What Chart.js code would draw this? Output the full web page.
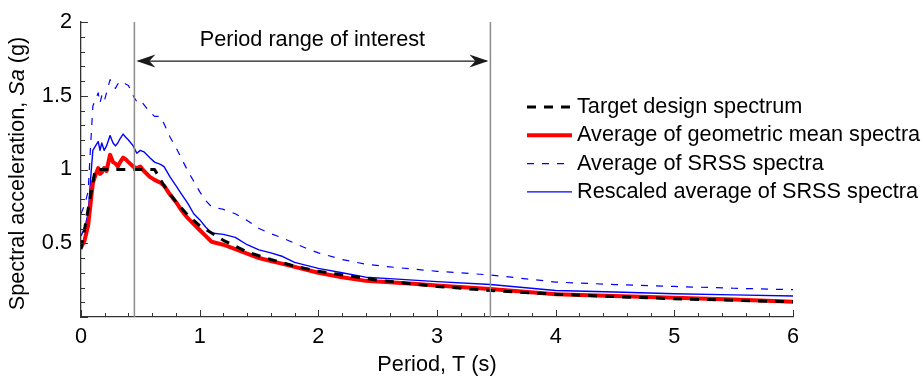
<!DOCTYPE html>
<html lang="en">
<head>
<meta charset="UTF-8" />
<title>Spectral acceleration vs period</title>
<script src="https://cdn.jsdelivr.net/npm/chart.js"></script>
<style>
  html, body { margin: 0; padding: 0; background: #fff; }
  #wrap { width: 924px; height: 377px; position: relative; }
</style>
</head>
<body>
<div id="wrap"><canvas id="chart"></canvas></div>
<script>
// periods (s) shared by the three recorded-motion curves
const periods = [0, 0.03, 0.06, 0.085, 0.10, 0.13, 0.145, 0.16, 0.175, 0.195, 0.215, 0.245, 0.27, 0.29, 0.31, 0.33, 0.355, 0.375, 0.40, 0.44, 0.47, 0.50, 0.53, 0.58, 0.62, 0.67, 0.70, 0.75, 0.80, 0.85, 0.90, 0.95, 1.0, 1.05, 1.10, 1.20, 1.30, 1.40, 1.50, 1.60, 1.70, 1.80, 1.90, 2.0, 2.2, 2.4, 2.6, 2.8, 3.0, 3.45, 4.0, 4.5, 5.0, 5.5, 6.0];
const geoMeanSa = [0.47, 0.52, 0.62, 0.80, 0.91, 0.98, 1.01, 0.97, 0.98, 1.01, 0.99, 1.10, 1.05, 1.04, 1.02, 1.05, 1.08, 1.07, 1.05, 1.02, 1.01, 1.02, 0.99, 0.95, 0.93, 0.91, 0.89, 0.83, 0.78, 0.72, 0.67, 0.63, 0.59, 0.55, 0.51, 0.49, 0.46, 0.43, 0.40, 0.38, 0.36, 0.34, 0.32, 0.30, 0.27, 0.245, 0.235, 0.225, 0.213, 0.19, 0.155, 0.142, 0.131, 0.118, 0.103];
const srssSa = [0.70, 0.76, 0.85, 1.22, 1.43, 1.49, 1.52, 1.45, 1.50, 1.46, 1.52, 1.61, 1.57, 1.55, 1.58, 1.59, 1.60, 1.58, 1.57, 1.50, 1.46, 1.47, 1.44, 1.39, 1.36, 1.36, 1.31, 1.22, 1.15, 1.07, 0.99, 0.92, 0.85, 0.79, 0.747, 0.73, 0.70, 0.655, 0.60, 0.565, 0.535, 0.50, 0.465, 0.435, 0.39, 0.358, 0.34, 0.325, 0.31, 0.285, 0.237, 0.22, 0.207, 0.195, 0.185];
const rescaledSa = [0.55, 0.60, 0.70, 0.98, 1.13, 1.17, 1.19, 1.13, 1.18, 1.13, 1.16, 1.23, 1.18, 1.16, 1.18, 1.21, 1.24, 1.22, 1.20, 1.16, 1.11, 1.13, 1.12, 1.08, 1.05, 1.035, 1.02, 0.95, 0.89, 0.83, 0.77, 0.70, 0.66, 0.61, 0.57, 0.56, 0.54, 0.49, 0.455, 0.435, 0.41, 0.37, 0.35, 0.33, 0.30, 0.27, 0.26, 0.25, 0.24, 0.22, 0.18, 0.17, 0.158, 0.15, 0.142];

// target design spectrum
const targetT = [0, 0.12, 0.62, 0.7, 0.8, 0.9, 1.0, 1.2, 1.4, 1.6, 1.8, 2.0, 2.5, 3.0, 3.5, 4.0, 4.5, 5.0, 5.5, 6.0];
const targetSa = [0.46, 1.0, 1.0, 0.89, 0.78, 0.69, 0.62, 0.52, 0.44, 0.39, 0.345, 0.31, 0.25, 0.207, 0.177, 0.155, 0.138, 0.124, 0.113, 0.103];

const rangeStart = 0.45;
const rangeEnd = 3.45;
const xTickLabels = [0, 1, 2, 3, 4, 5, 6];
const yTickLabels = [0.5, 1, 1.5, 2];
const xMinorStep = 0.2;
const yMinorStep = 0.1;

const FONT = "'Liberation Sans', Arial, sans-serif";
const FSIZE = 21.7;
Chart.defaults.font.family = FONT;
Chart.defaults.font.size = FSIZE;
Chart.defaults.color = '#000';

const pts = (xs, ys) => xs.map((x, i) => ({ x, y: ys[i] }));

function line(ctx, x1, y1, x2, y2) {
  ctx.beginPath();
  ctx.moveTo(x1, y1);
  ctx.lineTo(x2, y2);
  ctx.stroke();
}

function arrowHead(ctx, tipX, y, dir) {
  // concave filled head, dir = +1 points right, -1 points left
  ctx.beginPath();
  ctx.moveTo(tipX, y);
  ctx.lineTo(tipX - dir * 19, y - 6.5);
  ctx.lineTo(tipX - dir * 13, y);
  ctx.lineTo(tipX - dir * 19, y + 6.5);
  ctx.closePath();
  ctx.fill();
}

const decor = {
  id: 'decor',
  afterDatasetsDraw(chart) {
    const { ctx, chartArea: a, scales: { x, y } } = chart;
    const x1 = x.getPixelForValue(rangeStart);
    const x2 = x.getPixelForValue(rangeEnd);
    ctx.save();
    ctx.strokeStyle = '#8c8c8c';
    ctx.lineWidth = 1.5;
    line(ctx, x1, a.top, x1, a.bottom);
    line(ctx, x2, a.top, x2, a.bottom);

    // double arrow and label
    const ay = y.getPixelForValue(1.735);
    ctx.strokeStyle = '#1a1a1a';
    ctx.fillStyle = '#1a1a1a';
    ctx.lineWidth = 1.3;
    line(ctx, x1 + 4, ay, x2 - 4, ay);
    arrowHead(ctx, x1 + 2, ay, -1);
    arrowHead(ctx, x2 - 2, ay, 1);
    ctx.fillStyle = '#000';
    ctx.font = FSIZE + 'px ' + FONT;
    ctx.textAlign = 'center';
    ctx.textBaseline = 'middle';
    ctx.fillText('Period range of interest', (x1 + x2) / 2, y.getPixelForValue(1.88));
    ctx.restore();
  },
  afterDraw(chart) {
    const { ctx, chartArea: a, scales: { x, y } } = chart;
    ctx.save();
    // inward ticks
    ctx.strokeStyle = '#333';
    ctx.lineWidth = 1;
    for (let i = 0; i <= Math.round(6 / xMinorStep); i++) {
      const px = Math.round(x.getPixelForValue(i * xMinorStep)) + 0.5;
      const len = i % 5 === 0 ? 7 : 4;
      line(ctx, px, a.bottom, px, a.bottom - len);
    }
    for (let i = 0; i <= Math.round(2 / yMinorStep); i++) {
      const py = Math.round(y.getPixelForValue(i * yMinorStep)) + 0.5;
      const len = i % 5 === 0 ? 7 : 4;
      line(ctx, a.left, py, a.left + len, py);
    }

    // axis titles
    ctx.fillStyle = '#000';
    ctx.font = FSIZE + 'px ' + FONT;
    ctx.textBaseline = 'middle';
    ctx.textAlign = 'center';
    ctx.fillText('Period, T (s)', (a.left + a.right) / 2, a.bottom + 48);

    const parts = [
      ['Spectral acceleration, ', 'normal'],
      ['Sa', 'italic'],
      [' (g)', 'normal']
    ];
    let total = 0;
    const widths = parts.map(([t, s]) => {
      ctx.font = s + ' ' + FSIZE + 'px ' + FONT;
      const w = ctx.measureText(t).width;
      total += w;
      return w;
    });
    ctx.translate(18, (a.top + a.bottom) / 2 + 4);
    ctx.rotate(-Math.PI / 2);
    ctx.textAlign = 'left';
    let cx = -total / 2;
    parts.forEach(([t, s], i) => {
      ctx.font = s + ' ' + FSIZE + 'px ' + FONT;
      ctx.fillText(t, cx, 0);
      cx += widths[i];
    });
    ctx.setTransform(1, 0, 0, 1, 0, 0);

    // legend
    ctx.font = FSIZE + 'px ' + FONT;
    ctx.textAlign = 'left';
    chart.data.datasets.forEach((ds, i) => {
      const ly = a.top + 85 + i * 28.3;
      ctx.strokeStyle = ds.borderColor;
      ctx.lineWidth = ds.borderWidth;
      ctx.setLineDash(ds.borderDash || []);
      line(ctx, 527, ly, 572, ly);
      ctx.setLineDash([]);
      ctx.fillStyle = '#000';
      ctx.fillText(ds.label, 577, ly);
    });
    ctx.restore();
  }
};

new Chart(document.getElementById('chart'), {
  type: 'line',
  data: {
    datasets: [
      { label: 'Target design spectrum', data: pts(targetT, targetSa), borderColor: '#000000', borderWidth: 3, borderDash: [9, 8] },
      { label: 'Average of geometric mean spectra', data: pts(periods, geoMeanSa), borderColor: '#ff0000', borderWidth: 4 },
      { label: 'Average of SRSS spectra', data: pts(periods, srssSa), borderColor: '#0000ff', borderWidth: 1.2, borderDash: [7, 8] },
      { label: 'Rescaled average of SRSS spectra', data: pts(periods, rescaledSa), borderColor: '#0000ff', borderWidth: 1.4 }
    ]
  },
  options: {
    animation: false,
    responsive: true,
    maintainAspectRatio: false,
    layout: { padding: { top: 17, right: 131, left: 0, bottom: 0 } },
    elements: {
      point: { radius: 0 },
      line: { tension: 0, borderCapStyle: 'butt', borderJoinStyle: 'round' }
    },
    plugins: { legend: { display: false }, tooltip: { enabled: false } },
    scales: {
      x: {
        type: 'linear',
        min: 0,
        max: 6,
        afterBuildTicks: s => { s.ticks = xTickLabels.map(v => ({ value: v })); },
        afterFit: s => { s.height = 60; },
        grid: { display: false, drawTicks: false },
        border: { color: '#333', width: 1.3 },
        ticks: { padding: 7, maxRotation: 0, callback: v => String(v) }
      },
      y: {
        min: 0,
        max: 2,
        afterBuildTicks: s => { s.ticks = yTickLabels.map(v => ({ value: v })); },
        afterFit: s => { s.width = 81; },
        grid: { display: false, drawTicks: false },
        border: { color: '#333', width: 1.3 },
        ticks: { padding: 9, callback: v => String(v) }
      }
    }
  },
  plugins: [decor]
});
</script>
</body>
</html>
